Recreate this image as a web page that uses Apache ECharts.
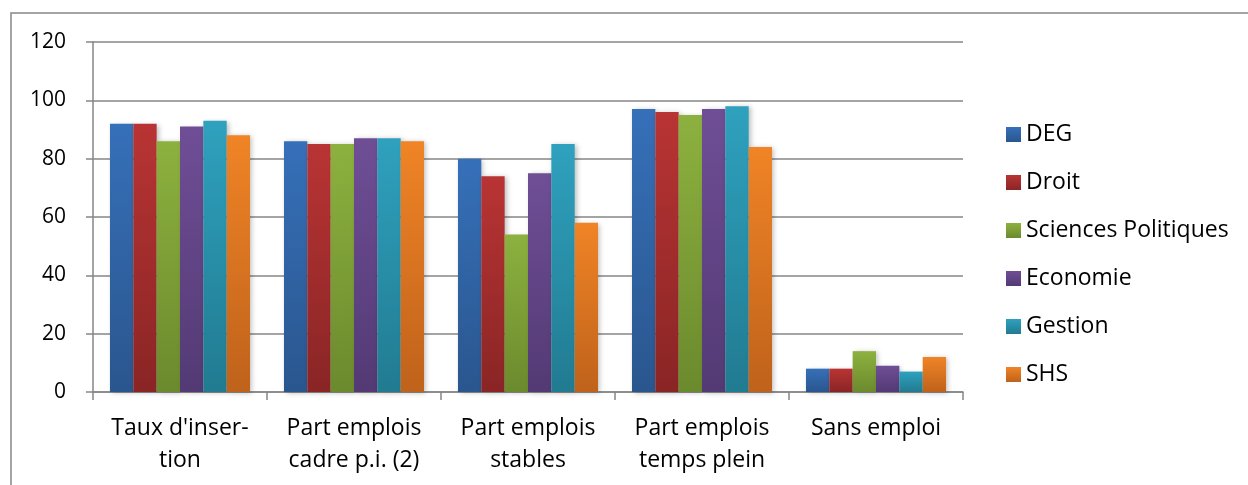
<!DOCTYPE html>
<html>
<head>
<meta charset="utf-8">
<script src="https://cdn.jsdelivr.net/npm/echarts@6/dist/echarts.min.js"></script>
<style>
html,body{margin:0;padding:0;background:#fff;}
#c{width:1248px;height:485px;}
</style>
</head>
<body>
<div id="c"></div>
<script>
const categories = ["Taux d'inser-\ntion", "Part emplois\ncadre p.i. (2)", "Part emplois\nstables", "Part emplois\ntemps plein", "Sans emploi"];
const seriesNames = ["DEG", "Droit", "Sciences Politiques", "Economie", "Gestion", "SHS"];
const DEG = [92, 86, 80, 97, 8];
const Droit = [92, 85, 74, 96, 8];
const SciencesPolitiques = [86, 85, 54, 95, 14];
const Economie = [91, 87, 75, 97, 9];
const Gestion = [93, 87, 85, 98, 7];
const SHS = [88, 86, 58, 84, 12];
const yTicks = [0, 20, 40, 60, 80, 100, 120];

const values = [DEG, Droit, SciencesPolitiques, Economie, Gestion, SHS];
const colors = [
  ['#3670b9', '#2a568e'],
  ['#b93434', '#8a2525'],
  ['#8db13f', '#6b8a2d'],
  ['#6f4e96', '#533a74'],
  ['#2fa1be', '#217b91'],
  ['#f08426', '#bf621b']
];
const font = '"Open Sans", sans-serif';

const chart = echarts.init(document.getElementById('c'), null, {renderer: 'canvas'});
chart.setOption({
  animation: false,
  backgroundColor: '#ffffff',
  graphic: [{
    type: 'rect',
    shape: {x: 11, y: 13, width: 1400, height: 700},
    style: {fill: 'none', stroke: '#868686', lineWidth: 1.5},
    silent: true
  }],
  grid: {left: 93, right: 285, top: 42, bottom: 93},
  legend: {
    orient: 'vertical',
    left: 1001,
    top: 118,
    itemWidth: 15,
    itemHeight: 15,
    itemGap: 25,
    icon: 'rect',
    data: seriesNames,
    textStyle: {fontFamily: font, fontSize: 23, color: '#000', lineHeight: 23}
  },
  xAxis: {
    type: 'category',
    data: categories,
    axisLine: {lineStyle: {color: '#868686', width: 1.5}},
    axisTick: {show: true, length: 8, lineStyle: {color: '#868686', width: 1.5}},
    axisLabel: {fontFamily: font, fontSize: 23, color: '#000', lineHeight: 32, margin: 20, interval: 0}
  },
  yAxis: {
    type: 'value',
    min: 0,
    max: 120,
    interval: 20,
    axisLine: {show: true, lineStyle: {color: '#868686', width: 1.5}},
    axisTick: {show: true, length: 7, lineStyle: {color: '#868686', width: 1.5}},
    splitLine: {lineStyle: {color: '#868686', width: 1.5}},
    axisLabel: {fontFamily: font, fontSize: 21, color: '#000', margin: 27,
      formatter: v => yTicks.includes(v) ? String(v) : ''}
  },
  series: seriesNames.map((name, i) => ({
    name: name,
    type: 'bar',
    data: values[i],
    barGap: '0%',
    barCategoryGap: '19.5%',
    itemStyle: {
      color: new echarts.graphic.LinearGradient(0, 0, 0, 1, [
        {offset: 0, color: colors[i][0]},
        {offset: 1, color: colors[i][1]}
      ]),
      shadowBlur: 5,
      shadowColor: 'rgba(0,0,0,0.25)',
      shadowOffsetX: 2,
      shadowOffsetY: 1
    }
  }))
});
</script>
</body>
</html>
